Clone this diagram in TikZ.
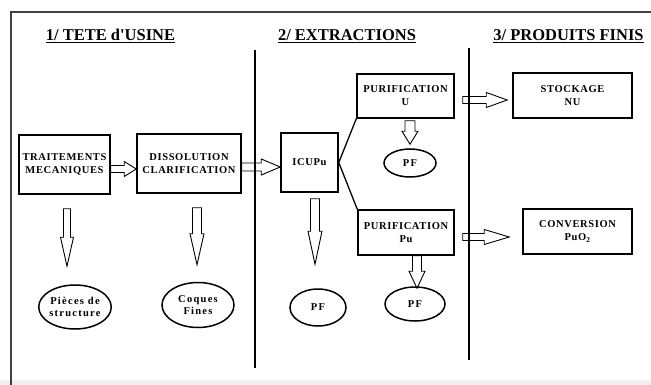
\documentclass[tikz,border=0pt]{standalone}
\usepackage{fontspec}
\setmainfont{Liberation Serif}
\newfontfamily\boxfont{Liberation Serif}[LetterSpace=6]
\newfontfamily\ovalfont{Liberation Serif}[LetterSpace=12]
\usetikzlibrary{shapes.geometric,calc}
\tikzset{
  proc/.style={draw, line width=1.5pt, inner sep=0pt, align=center,
    font=\boxfont\bfseries\fontsize{10.5}{13}\selectfont},
  prod/.style={draw, ellipse, line width=1.5pt, inner sep=0pt, align=center,
    font=\ovalfont\bfseries\fontsize{10.5}{12.5}\selectfont},
  blk/.style={draw, line width=0.9pt, line join=miter},
  divider/.style={line width=1.4pt},
  frame/.style={line width=1.4pt, black!75},
  title/.style={anchor=base, inner sep=0pt, font=\bfseries\fontsize{16.5}{18}\selectfont},
  link/.style={line width=1.3pt},
}
% hollow block arrow pointing right: start, tip, head length, shaft half, head half
\newcommand\rightblock[5]{%
  \draw[blk] let \p1=(#1), \p2=(#2) in
    (\x1,\y1+#4pt) -- (\x2-#3pt,\y1+#4pt) -- (\x2-#3pt,\y1+#5pt) -- (\x2,\y1)
    -- (\x2-#3pt,\y1-#5pt) -- (\x2-#3pt,\y1-#4pt) -- (\x1,\y1-#4pt) -- cycle;}
% hollow block arrow pointing down: start, tip, head length, shaft half, head half
\newcommand\downblock[5]{%
  \draw[blk] let \p1=(#1), \p2=(#2) in
    (\x1-#4pt,\y1) -- (\x1-#4pt,\y2+#3pt) -- (\x1-#5pt,\y2+#3pt) -- (\x1,\y2)
    -- (\x1+#5pt,\y2+#3pt) -- (\x1+#4pt,\y2+#3pt) -- (\x1+#4pt,\y1) -- cycle;}
\begin{document}
\begin{tikzpicture}[x=1pt,y=-1pt]
\useasboundingbox (0,0) rectangle (651,385);
\fill[black!6] (0,380) rectangle (651,385);
% frame and dividers
\draw[frame] (11,385) -- (11,12) -- (651,12);
\draw[divider] (255,50) -- (255,368);
\draw[divider] (469,48) -- (469,360);
% titles
\node[title] (t1) at (110.5,41) {\underline{1/ TETE d\textquotesingle USINE}};
\node[title] (t2) at (347,41) {\underline{2/ EXTRACTIONS}};
\node[title] (t3) at (568.5,41) {\underline{3/ PRODUITS FINIS}};
% process boxes
\node[proc, minimum width=91pt, minimum height=59pt] (tm) at (64.5,164.5) {TRAITEMENTS\\MECANIQUES};
\node[proc, minimum width=104pt, minimum height=59pt] (dc) at (189,163.5) {DISSOLUTION\\CLARIFICATION};
\node[proc, minimum width=57pt, minimum height=59pt] (icu) at (309.5,162.5) {ICUPu};
\node[proc, minimum width=97pt, minimum height=44pt] (pu) at (405.5,96) {PURIFICATION\\U};
\node[proc, minimum width=96pt, minimum height=45pt] (ppu) at (406,232.5) {PURIFICATION\\Pu};
\node[proc, minimum width=119pt, minimum height=45pt] (stk) at (572.5,95.5) {STOCKAGE\\NU};
\node[proc, minimum width=109pt, minimum height=45pt] (conv) at (577.5,231.5) {CONVERSION\\PuO\textsubscript{2}};
% products
\node[prod, minimum width=72pt, minimum height=44pt] (e1) at (75,307) {Pièces de\\structure};
\node[prod, minimum width=72pt, minimum height=45pt] (e2) at (198,305) {Coques\\Fines};
\node[prod, minimum width=56pt, minimum height=37pt] (e3) at (318,307.5) {PF};
\node[prod, minimum width=60pt, minimum height=34pt] (pf2) at (415,304) {PF};
\node[prod, minimum width=52pt, minimum height=28pt] (pf0) at (410,163) {PF};
% branch lines
\draw[link] (icu.east) -- (pu.south west);
\draw[link] (icu.east) -- (ppu.north west);
% right block arrows
\rightblock{$(tm.east)+(0,4.5)$}{dc.west}{12}{3.5}{7.5}
\rightblock{$(dc.east)+(0,3.5)$}{icu.west}{19}{4}{8}
\rightblock{$(pu.east)+(8,4)$}{$(stk.west)+(-5,0)$}{21}{3.5}{7.5}
\rightblock{$(ppu.east)+(8,4.5)$}{$(conv.west)+(-13,0)$}{25}{3.5}{7.5}
% down block arrows
\downblock{$(tm.south)+(2.5,14)$}{$(e1.north)+(0,-18)$}{29}{3.5}{6.5}
\downblock{$(dc.south)+(8,14)$}{$(e2.north)+(0,-17)$}{31}{4.5}{7}
\downblock{$(icu.south)+(5.5,6)$}{$(e3.north)+(0,-24)$}{33}{4.5}{7}
\downblock{$(pu.south)+(4.5,2)$}{$(pf0.north)+(0,-4)$}{13}{5}{8}
\downblock{$(ppu.south)+(11,0)$}{$(pf2.north)+(0,2)$}{17}{4.5}{8}
\end{tikzpicture}
\end{document}
